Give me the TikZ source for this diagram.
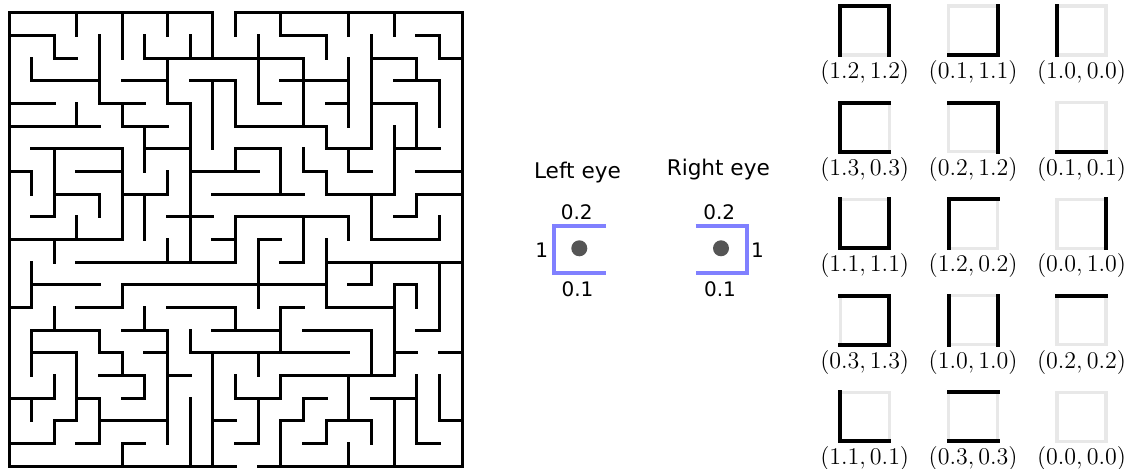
\documentclass[tikz,border=0pt]{standalone}
\usepackage{fontspec}
\newfontfamily\dejavu{DejaVu Sans}
\definecolor{eyeblue}{RGB}{128,128,255}
\definecolor{dotgray}{RGB}{85,85,85}
\definecolor{edgegray}{RGB}{232,232,232}
\begin{document}
\begin{tikzpicture}[x=0.5pt,y=-0.5pt,
  wall/.style={line width=1.5pt,line cap=rect},
  tileedge/.style={draw=edgegray,line width=1.6pt},
  tilewall/.style={line width=2pt,line cap=rect},
  eyewall/.style={draw=eyeblue,line width=2pt,line join=miter},
  eyedot/.style={circle,fill=dotgray,inner sep=0pt,minimum size=8pt},
  eyetitle/.style={font=\dejavu\fontsize{10.8}{13}\selectfont,anchor=base,inner sep=0pt},
  eyenum/.style={font=\dejavu\fontsize{10}{12}\selectfont,inner sep=0pt},
  tilelabel/.style={font=\fontsize{12}{14}\selectfont,inner sep=0pt}]
\useasboundingbox (0,0) rectangle (1125,469);
% maze, 20 x 20 cells
\begin{scope}[xshift=4.5pt,yshift=-6.35pt,x=11.333pt,y=-11.333pt]
\foreach \j/\a/\b in {0/0/9,0/10/20,1/0/2,1/12/14,1/18/19,2/2/3,2/6/13,2/16/18,2/19/20,
  3/1/4,3/5/7,3/8/10,3/12/15,3/17/19,4/0/2,4/4/6,4/7/8,4/11/12,4/14/15,4/16/18,
  5/0/4,5/5/7,5/10/14,6/1/5,6/6/8,6/10/12,6/14/16,6/17/19,
  7/0/1,7/3/5,7/8/11,7/13/14,7/15/16,7/18/20,8/2/4,8/5/7,8/9/13,8/14/17,8/18/20,
  9/1/2,9/7/9,9/10/15,9/17/18,10/0/5,10/9/10,10/11/12,10/16/19,11/3/10,11/12/13,11/14/20,
  12/1/4,12/5/14,12/15/16,12/17/18,13/0/1,13/3/5,13/7/10,13/12/13,13/14/17,
  14/1/4,14/5/7,14/9/12,14/13/16,14/18/19,15/1/3,15/4/5,15/6/7,15/8/15,15/17/18,15/19/20,
  16/4/6,16/7/8,16/12/17,17/0/2,17/3/4,17/5/6,17/10/12,17/13/14,17/16/18,
  18/2/3,18/4/7,18/9/10,18/12/13,18/14/16,18/19/20,19/0/2,19/3/4,19/5/6,19/10/11,19/13/14,19/18/19,
  20/0/10,20/11/20}
  { \draw[wall] (\a,\j) -- (\b,\j); }
\foreach \i/\a/\b in {0/0/20,1/2/3,1/7/8,1/11/13,1/14/16,1/17/18,
  2/1/2,2/6/9,2/10/11,2/13/14,2/16/17,2/18/19,3/0/1,3/4/5,3/9/10,3/15/18,
  4/1/4,4/8/9,4/14/15,4/17/19,5/0/2,5/4/5,5/6/10,5/12/13,5/15/16,5/19/20,
  6/1/2,6/5/7,6/8/10,6/13/14,6/16/17,7/0/1,7/2/4,7/7/8,7/10/11,7/14/19,
  8/1/2,8/4/11,8/14/15,8/17/20,9/0/2,9/3/6,9/15/20,
  10/0/1,10/3/5,10/6/7,10/9/11,10/13/14,10/16/17,11/1/4,11/10/13,11/15/16,11/17/19,
  12/0/1,12/6/8,12/13/15,12/16/17,12/18/20,13/2/5,13/6/7,13/9/11,13/17/18,
  14/1/2,14/5/6,14/7/8,14/10/13,14/18/19,15/0/1,15/2/5,15/6/7,15/9/10,15/16/18,15/19/20,
  16/1/6,16/8/10,16/11/12,16/14/16,16/18/19,17/0/1,17/5/8,17/12/16,17/17/20,
  18/2/3,18/4/6,18/8/9,18/12/13,18/16/19,19/1/2,19/3/5,19/9/10,19/11/14,19/16/18,20/0/20}
  { \draw[wall] (\i,\a) -- (\i,\b); }
\end{scope}
% the two eyes
\node[eyetitle] (lefttitle) at (577.5,178.3) {Left eye};
\draw[eyewall] (606,226) -- (554.3,226) -- (554.3,273.3) -- (606,273.3);
\node[eyedot] (leftdot) at (579.3,248.3) {};
\node[eyenum] (lefttop) at (576.7,211.8) {0.2};
\node[eyenum] (leftside) at (541.7,250) {1};
\node[eyenum] (leftbot) at (577.5,289.2) {0.1};
\node[eyetitle] (righttitle) at (718.3,176) {Right eye};
\draw[eyewall] (695.7,226) -- (746.7,226) -- (746.7,273.3) -- (695.7,273.3);
\node[eyedot] (rightdot) at (721,248.3) {};
\node[eyenum] (righttop) at (719.2,211.8) {0.2};
\node[eyenum] (rightside) at (757.5,250) {1};
\node[eyenum] (rightbot) at (720,289.2) {0.1};
% tiles: column/row/left/top/right/bottom
\foreach \c/\r/\L/\T/\R/\B in {0/0/1/1/1/0,1/0/0/0/1/1,2/0/1/0/0/0,
  0/1/1/1/0/1,1/1/0/1/1/0,2/1/0/0/0/1,0/2/1/0/1/1,1/2/1/1/0/0,2/2/0/0/1/0,
  0/3/0/1/1/1,1/3/1/0/1/0,2/3/0/1/0/0,0/4/1/0/0/1,1/4/0/1/0/1,2/4/0/0/0/0}
{
  \pgfmathtruncatemacro\v{2*\T+\B}
  \begin{scope}[shift={(864.7+108.4*\c,30.5+96.6*\r)}]
    \draw[tileedge] (-24.5,-24.5) rectangle (24.5,24.5);
    \ifnum\L=1 \draw[tilewall] (-24.5,-24.5) -- (-24.5,24.5); \fi
    \ifnum\T=1 \draw[tilewall] (-24.5,-24.5) -- (24.5,-24.5); \fi
    \ifnum\R=1 \draw[tilewall] (24.5,-24.5) -- (24.5,24.5); \fi
    \ifnum\B=1 \draw[tilewall] (-24.5,24.5) -- (24.5,24.5); \fi
    \node[tilelabel] (lab\r\c) at (0,42) {$(\L.\v, \R.\v)$};
  \end{scope}
}
\end{tikzpicture}
\end{document}
